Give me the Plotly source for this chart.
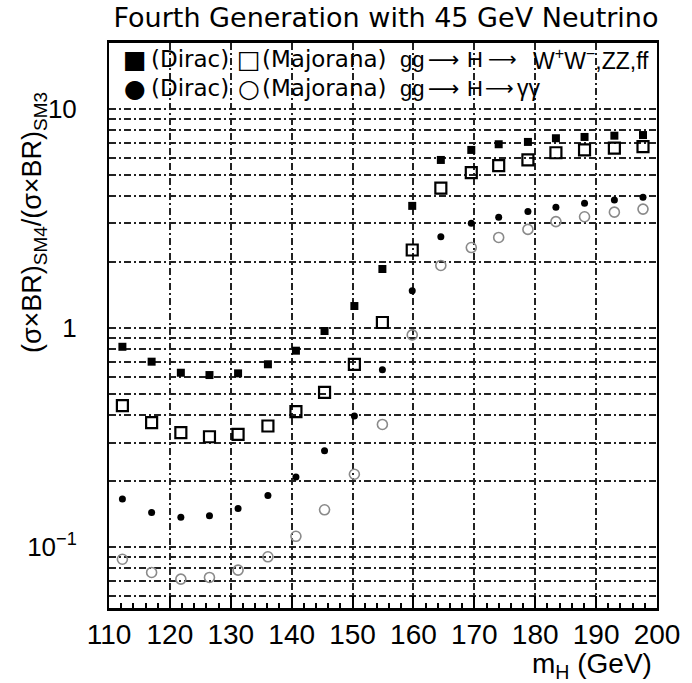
import plotly.graph_objects as go

# Higgs mass points (GeV)
mass = [112.2, 117.0, 121.8, 126.5, 131.2, 136.1, 140.7, 145.4, 150.3, 154.9,
        159.8, 164.5, 169.5, 174.0, 178.8, 183.4, 188.1, 193.0, 197.7]

# gg -> H -> WW, ZZ, ff
dirac_ww = [0.821, 0.702, 0.625, 0.610, 0.621, 0.683, 0.788, 0.969, 1.26, 1.86,
            3.61, 5.85, 6.50, 6.90, 7.07, 7.35, 7.45, 7.55, 7.60]
majorana_ww = [0.442, 0.370, 0.333, 0.319, 0.327, 0.357, 0.415, 0.508, 0.683, 1.06,
               2.27, 4.35, 5.12, 5.51, 5.85, 6.31, 6.50, 6.62, 6.73]

# gg -> H -> gamma gamma
dirac_gg = [0.166, 0.144, 0.137, 0.139, 0.150, 0.172, 0.209, 0.275, 0.397, 0.645,
            1.48, 2.61, 3.01, 3.20, 3.40, 3.56, 3.71, 3.84, 3.95]
majorana_gg = [0.088, 0.0766, 0.0714, 0.0727, 0.0785, 0.0903, 0.112, 0.148, 0.215, 0.363,
               0.93, 1.93, 2.33, 2.59, 2.82, 3.06, 3.22, 3.38, 3.49]

# axis ticks
x_ticks = [110, 120, 130, 140, 150, 160, 170, 180, 190, 200]
y_grid = [0.06, 0.07, 0.08, 0.09, 0.1, 0.2, 0.3, 0.4, 0.5, 0.6, 0.7, 0.8, 0.9,
          1, 2, 3, 4, 5, 6, 7, 8, 9, 10]
y_labels = {0.1: "10<sup>−1</sup>", 1: "1", 10: "10"}

FONT = "Liberation Sans, Arial, sans-serif"
WIDE = "DejaVu Sans, Verdana, sans-serif"
GRID_DASH = "7px,3px,2px,3px"

fig = go.Figure()
fig.add_trace(go.Scatter(x=mass, y=majorana_gg, mode="markers", name="Majorana γγ",
                         marker=dict(symbol="circle-open", size=10, color="#8a8a8a",
                                     line=dict(width=1.6, color="#8a8a8a"))))
fig.add_trace(go.Scatter(x=mass, y=dirac_gg, mode="markers", name="Dirac γγ",
                         marker=dict(symbol="circle", size=7, color="black")))
fig.add_trace(go.Scatter(x=mass, y=majorana_ww, mode="markers", name="Majorana WW",
                         marker=dict(symbol="square-open", size=11, color="black",
                                     line=dict(width=2.2, color="black"))))
fig.add_trace(go.Scatter(x=mass, y=dirac_ww, mode="markers", name="Dirac WW",
                         marker=dict(symbol="square", size=8, color="black")))

# pixel -> paper helpers for the plot frame (109..665 x 43..608)
def px_x(p):
    return (p - 109) / 556.0

def px_y(p):
    return (608 - p) / 565.0

# legend rows drawn as text inside the frame
legend_rows = [
    (59, "■", "□", "W<sup>+</sup>W<sup>−</sup>,ZZ,ff", 508, 537),
    (88, "●", "○", "γγ", 505, 521),
]
for row_y, full, empty, final, arrow2, final_x in legend_rows:
    yy = px_y(row_y)
    items = [
        (full, 135, "center", 25, WIDE),
        ("(Dirac)", 150, "left", 23, WIDE),
        (empty, 251, "center", 25, WIDE),
        ("(Majorana)", 262, "left", 23, WIDE),
        ("gg", 402, "left", 22, FONT),
        ("⟶", 449, "center", 22, WIDE),
        ("H", 480, "center", 22, FONT),
        ("⟶", arrow2, "center", 20, WIDE),
        (final, final_x, "left", 23, FONT),
    ]
    for text, xpix, anchor, size, fam in items:
        fig.add_annotation(text=text, x=px_x(xpix), y=yy, xref="paper", yref="paper",
                           xanchor=anchor, yanchor="middle", showarrow=False,
                           font=dict(family=fam, size=size, color="black"))

# x-axis title
fig.add_annotation(text="m<sub>H</sub> (GeV)", x=px_x(662), y=px_y(665),
                   xref="paper", yref="paper", xanchor="right", yanchor="middle",
                   showarrow=False, font=dict(family=FONT, size=28, color="black"))

# y-axis title
fig.add_annotation(text="(σ×BR)<sub>SM4</sub>/(σ×BR)<sub>SM3</sub>",
                   x=px_x(33), y=px_y(223), xref="paper", yref="paper",
                   xanchor="center", yanchor="middle", textangle=-90, showarrow=False,
                   font=dict(family=FONT, size=27, color="black"))

fig.update_layout(
    width=692, height=683,
    margin=dict(l=109, r=27, t=43, b=75),
    paper_bgcolor="white", plot_bgcolor="white",
    showlegend=False,
    title=dict(text="Fourth Generation with 45 GeV Neutrino",
               x=386 / 692, xref="container", xanchor="center",
               y=1 - 18 / 683, yref="container", yanchor="middle",
               font=dict(family=WIDE, size=27, color="black")),
    font=dict(family=FONT, color="black"),
)

fig.update_xaxes(
    range=[110, 200], tickvals=x_ticks, ticktext=[str(v) for v in x_ticks],
    ticks="inside", ticklen=12, tickwidth=2, tickcolor="black",
    minor=dict(dtick=2, tick0=110, ticks="inside", ticklen=5, tickwidth=1.5,
               tickcolor="black", showgrid=False),
    showgrid=True, gridcolor="#222222", gridwidth=1.5, griddash=GRID_DASH,
    showline=True, linecolor="black", linewidth=2.5, mirror=True,
    tickfont=dict(family=FONT, size=28, color="black"), zeroline=False,
)

fig.update_yaxes(
    type="log", range=[-1.278, 1.301],
    tickvals=y_grid, ticktext=[y_labels.get(v, "") for v in y_grid],
    ticks="", ticklabelstandoff=25,
    showgrid=True, gridcolor="#222222", gridwidth=1.5, griddash=GRID_DASH,
    showline=True, linecolor="black", linewidth=2, mirror=True,
    tickfont=dict(family=FONT, size=26, color="black"), zeroline=False,
)

fig.write_html("out.html")
